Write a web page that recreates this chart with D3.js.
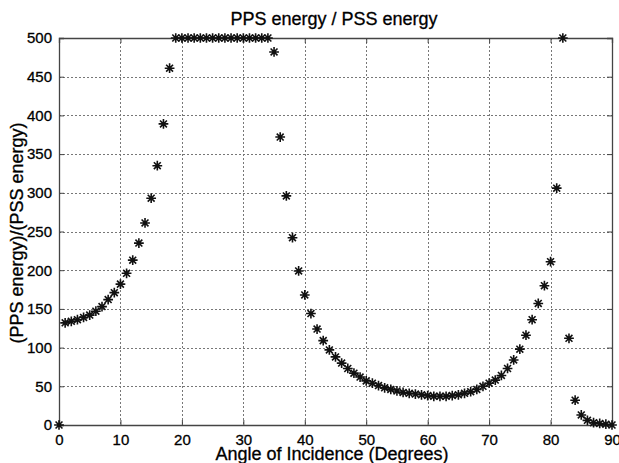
<!DOCTYPE html>
<html><head><meta charset="utf-8">
<script src="https://cdn.jsdelivr.net/npm/d3@7"></script>
<style>
html,body{margin:0;padding:0;background:#fff;}
svg{display:block;font-family:"Liberation Sans",Arial,sans-serif;}
</style></head>
<body><svg id="chart" width="619" height="463"></svg>
<script>
// Angle of incidence (degrees), 0..90 step 1
const angles = d3.range(0, 91);
// PPS energy / PSS energy ratio (capped at 500)
const ratio = [
  0, 132, 134, 136, 139, 142, 147, 153, 162, 171,
  182, 196, 213, 235, 261, 293, 335, 389, 461, 500,
  500, 500, 500, 500, 500, 500, 500, 500, 500, 500,
  500, 500, 500, 500, 500, 482, 372, 296, 242, 199,
  168, 144, 124, 109, 97, 88, 80, 73, 67, 62,
  57, 54, 51, 48, 46, 44, 42, 41, 40, 39,
  38, 37, 37, 37, 38, 39, 41, 43, 46, 50,
  54, 58, 64, 73, 84, 98, 116, 136, 157, 180,
  211, 306, 500, 112, 32, 13, 6, 3, 2, 1, 0
];
const xTicks = [0, 10, 20, 30, 40, 50, 60, 70, 80, 90];
const yTicks = [0, 50, 100, 150, 200, 250, 300, 350, 400, 450, 500];
const titleText = "PPS energy / PSS energy";
const xLabel = "Angle of Incidence (Degrees)";
const yLabel = "(PPS energy)/(PSS energy)";

const svg = d3.select("#chart");
const L = 59, R = 612, T = 38, B = 425;
const x = d3.scaleLinear().domain([0, 90]).range([L, R]);
const y = d3.scaleLinear().domain([0, 500]).range([B, T]);

// grid
const grid = svg.append("g").attr("stroke", "#777").attr("stroke-width", 1)
  .attr("stroke-dasharray", "2,2").attr("shape-rendering", "crispEdges");
grid.selectAll("line.gx").data(xTicks.slice(1, -1)).join("line")
  .attr("x1", d => Math.round(x(d)) + 0.5).attr("x2", d => Math.round(x(d)) + 0.5)
  .attr("y1", T).attr("y2", B);
grid.selectAll("line.gy").data(yTicks.slice(1, -1)).join("line")
  .attr("y1", d => Math.round(y(d)) + 0.5).attr("y2", d => Math.round(y(d)) + 0.5)
  .attr("x1", L).attr("x2", R);

// axes (ticks inside, all four sides)
const tk = 5;
const axB = svg.append("g").attr("transform", `translate(0,${B})`)
  .call(d3.axisBottom(x).tickValues(xTicks).tickSize(-tk).tickPadding(9).tickFormat(d3.format("d")));
const axT = svg.append("g").attr("transform", `translate(0,${T})`)
  .call(d3.axisTop(x).tickValues(xTicks).tickSize(-tk).tickFormat(""));
const axL = svg.append("g").attr("transform", `translate(${L},0)`)
  .call(d3.axisLeft(y).tickValues(yTicks).tickSize(-tk).tickPadding(7).tickFormat(d3.format("d")));
const axR = svg.append("g").attr("transform", `translate(${R},0)`)
  .call(d3.axisRight(y).tickValues(yTicks).tickSize(-tk).tickFormat(""));
[axB, axT, axL, axR].forEach(a => {
  a.selectAll(".domain").attr("stroke", "#444").attr("stroke-width", 1.3);
  a.selectAll(".tick line").attr("stroke", "#444").attr("stroke-width", 1);
  a.selectAll(".tick text").attr("fill", "#000").attr("font-size", 15)
    .attr("stroke", "#000").attr("stroke-width", 0.3)
    .attr("font-family", "Liberation Sans, Arial, sans-serif");
});
axB.selectAll(".tick text").attr("dy", "0.71em");

// asterisk marker (plus + times)
const asterisk = {
  draw(ctx, size) {
    const r = Math.sqrt(size) / 2;
    const d = r * Math.SQRT1_2;
    ctx.moveTo(0, -r); ctx.lineTo(0, r);
    ctx.moveTo(-r, 0); ctx.lineTo(r, 0);
    ctx.moveTo(-d, -d); ctx.lineTo(d, d);
    ctx.moveTo(-d, d); ctx.lineTo(d, -d);
  }
};
const sym = d3.symbol().type(asterisk).size(95);
svg.append("g").selectAll("path").data(angles).join("path")
  .attr("d", sym)
  .attr("transform", (d, i) => `translate(${x(d)},${y(ratio[i])})`)
  .attr("fill", "none").attr("stroke", "#111").attr("stroke-width", 1.6);

// title and labels
const lab = sel => sel.attr("fill", "#000").attr("stroke", "#000").attr("stroke-width", 0.3)
  .attr("text-anchor", "middle").attr("font-size", 18);
svg.append("text").attr("x", 334).attr("y", 25).call(lab).text(titleText);
svg.append("text").attr("x", 332).attr("y", 460).call(lab).text(xLabel);
svg.append("text").attr("transform", `translate(23,${233}) rotate(-90)`).call(lab).text(yLabel);
</script>
</body></html>
